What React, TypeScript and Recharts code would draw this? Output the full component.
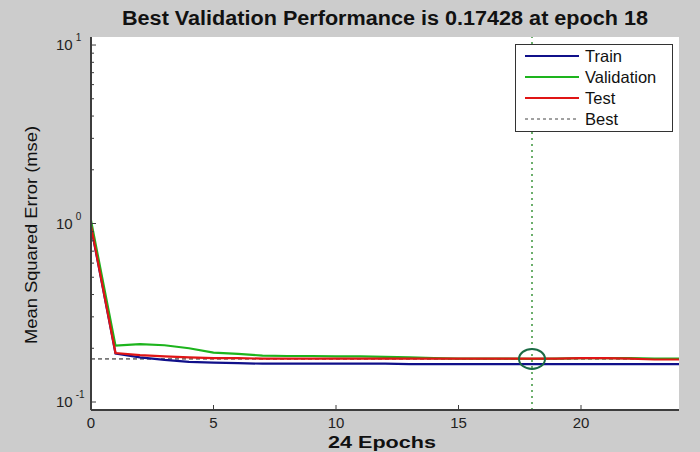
import {
    LineChart,
    Line,
    XAxis,
    YAxis,
    CartesianGrid,
    ReferenceLine,
    ReferenceDot,
    Legend,
    Label
} from "recharts"

const epochs = [0, 1, 2, 3, 4, 5, 6, 7, 8, 9, 10, 11, 12, 13, 14, 15, 16, 17, 18, 19, 20, 21, 22, 23, 24]
const trainMse = [0.96, 0.187, 0.178, 0.172, 0.168, 0.166, 0.165, 0.164, 0.164, 0.164, 0.164, 0.164, 0.164, 0.163, 0.163, 0.163, 0.163, 0.163, 0.163, 0.163, 0.163, 0.163, 0.163, 0.163, 0.163]
const validationMse = [1.04, 0.207, 0.211, 0.208, 0.2, 0.189, 0.186, 0.182, 0.181, 0.181, 0.18, 0.18, 0.179, 0.178, 0.176, 0.175, 0.175, 0.175, 0.17428, 0.175, 0.176, 0.176, 0.176, 0.175, 0.175]
const testMse = [0.97, 0.188, 0.183, 0.18, 0.178, 0.176, 0.176, 0.175, 0.175, 0.175, 0.175, 0.175, 0.175, 0.175, 0.175, 0.175, 0.175, 0.175, 0.175, 0.175, 0.176, 0.176, 0.175, 0.173, 0.173]

const bestEpoch = 18
const bestValue = 0.17428

const xTicks = [0, 5, 10, 15, 20]
const yMajor = [0.1, 1, 10]
const yTicks = [0.1, 0.2, 0.3, 0.4, 0.5, 0.6, 0.7, 0.8, 0.9, 1, 2, 3, 4, 5, 6, 7, 8, 9, 10]

const seriesNames = ["Train", "Validation", "Test", "Best"]

const data = epochs.map((e, i) => ({
    epoch: e,
    train: trainMse[i],
    validation: validationMse[i],
    test: testMse[i]
}))

const FONT = "'Liberation Sans', Arial, sans-serif"
const AXIS = "#3c3c3c"

function YTick(props: any) {
    const { x, y, payload } = props
    const v = payload.value
    const major = yMajor.includes(v)
    const exp = Math.round(Math.log10(v))
    return (
        <g>
            <line x1={x} y1={y} x2={x + (major ? 5 : 3)} y2={y} stroke={AXIS} strokeWidth={1} />
            {major && (
                <text x={56} y={y + 5} fontFamily={FONT} fontSize={15} fill="#222">
                    <tspan>10</tspan>
                    <tspan dx={3} dy={-9} fontSize={10}>{exp}</tspan>
                </text>
            )}
        </g>
    )
}

function XTick(props: any) {
    const { x, y, payload } = props
    return (
        <g>
            <line x1={x} y1={y} x2={x} y2={y - 5} stroke={AXIS} strokeWidth={1} />
            <text x={x} y={y + 18} textAnchor="middle" fontFamily={FONT} fontSize={15} fill="#222">
                {payload.value}
            </text>
        </g>
    )
}

function LegendBox() {
    const colors = ["#10108a", "#1db41d", "#e01515", "#444"]
    return (
        <svg width={158} height={88} style={{ display: "block" }}>
            <rect x={0.5} y={0.5} width={157} height={87} fill="#fff" stroke="#333" />
            {seriesNames.map((name, i) => {
                const cy = 12 + i * 21
                return (
                    <g key={name}>
                        <line
                            x1={10}
                            x2={64}
                            y1={cy}
                            y2={cy}
                            stroke={colors[i]}
                            strokeWidth={name === "Best" ? 1 : 2}
                            strokeDasharray={name === "Best" ? "3 3" : undefined}
                        />
                        <text x={70} y={cy + 6} fontFamily={FONT} fontSize={16.5} fill="#111">
                            {name}
                        </text>
                    </g>
                )
            })}
        </svg>
    )
}

function XLabel(props: any) {
    const { viewBox } = props
    const cx = viewBox.x + viewBox.width / 2
    return (
        <text x={cx - 3} y={448} textAnchor="middle" fontFamily={FONT} fontSize={17} fontWeight="bold"
            fill="#111" textLength={108} lengthAdjust="spacingAndGlyphs">
            24 Epochs
        </text>
    )
}

function YLabel() {
    return (
        <text x={0} y={0} transform="translate(37,235) rotate(-90)" textAnchor="middle" fontFamily={FONT}
            fontSize={17} fill="#111" textLength={218} lengthAdjust="spacingAndGlyphs">
            Mean Squared Error  (mse)
        </text>
    )
}

export default function App() {
    return (
        <div style={{ position: "absolute", left: 0, top: 0, width: 700, height: 452, background: "#cccccc" }}>
            <LineChart
                width={700}
                height={452}
                data={data}
                margin={{ top: 37, right: 21, bottom: 0, left: 0 }}
            >
                <CartesianGrid fill="#fff" horizontal={false} vertical={false} stroke="none" />

                <text x={385} y={25} textAnchor="middle" fontFamily={FONT} fontSize={20} fontWeight="bold"
                    fill="#111" textLength={526} lengthAdjust="spacingAndGlyphs">
                    Best Validation Performance is 0.17428 at epoch 18
                </text>

                <XAxis
                    dataKey="epoch"
                    type="number"
                    domain={[0, 24]}
                    ticks={xTicks}
                    allowDataOverflow
                    height={42}
                    tickSize={0}
                    tickMargin={0}
                    tickLine={false}
                    axisLine={{ stroke: AXIS, strokeWidth: 2 }}
                    tick={<XTick />}
                    interval={0}
                >
                    <Label content={<XLabel />} />
                </XAxis>

                <YAxis
                    scale="log"
                    type="number"
                    domain={[0.0902, 11.09]}
                    ticks={yTicks}
                    allowDataOverflow
                    width={91}
                    tickSize={0}
                    tickMargin={0}
                    tickLine={false}
                    axisLine={{ stroke: AXIS, strokeWidth: 2 }}
                    tick={<YTick />}
                    interval={0}
                >
                    <Label content={<YLabel />} />
                </YAxis>

                <ReferenceLine y={bestValue} stroke="#111" strokeWidth={1} strokeDasharray="4 3" />
                <ReferenceLine x={bestEpoch} stroke="#0a7a0a" strokeWidth={1.2} strokeDasharray="2 4" />

                <Line type="linear" dataKey="train" name="Train" stroke="#10108a" strokeWidth={2.2} dot={false} isAnimationActive={false} />
                <Line type="linear" dataKey="validation" name="Validation" stroke="#1db41d" strokeWidth={2.2} dot={false} isAnimationActive={false} />
                <Line type="linear" dataKey="test" name="Test" stroke="#e01515" strokeWidth={2.2} dot={false} isAnimationActive={false} />

                <ReferenceDot
                    x={bestEpoch}
                    y={bestValue}
                    shape={(p: any) => (
                        <ellipse cx={p.cx} cy={p.cy} rx={13} ry={10} fill="none" stroke="#1b6b45" strokeWidth={2} />
                    )}
                />

                <Legend
                    layout="vertical"
                    align="center"
                    verticalAlign="middle"
                    wrapperStyle={{ left: 515, top: 44, width: 158, height: 88 }}
                    content={<LegendBox />}
                />
            </LineChart>
        </div>
    )
}
